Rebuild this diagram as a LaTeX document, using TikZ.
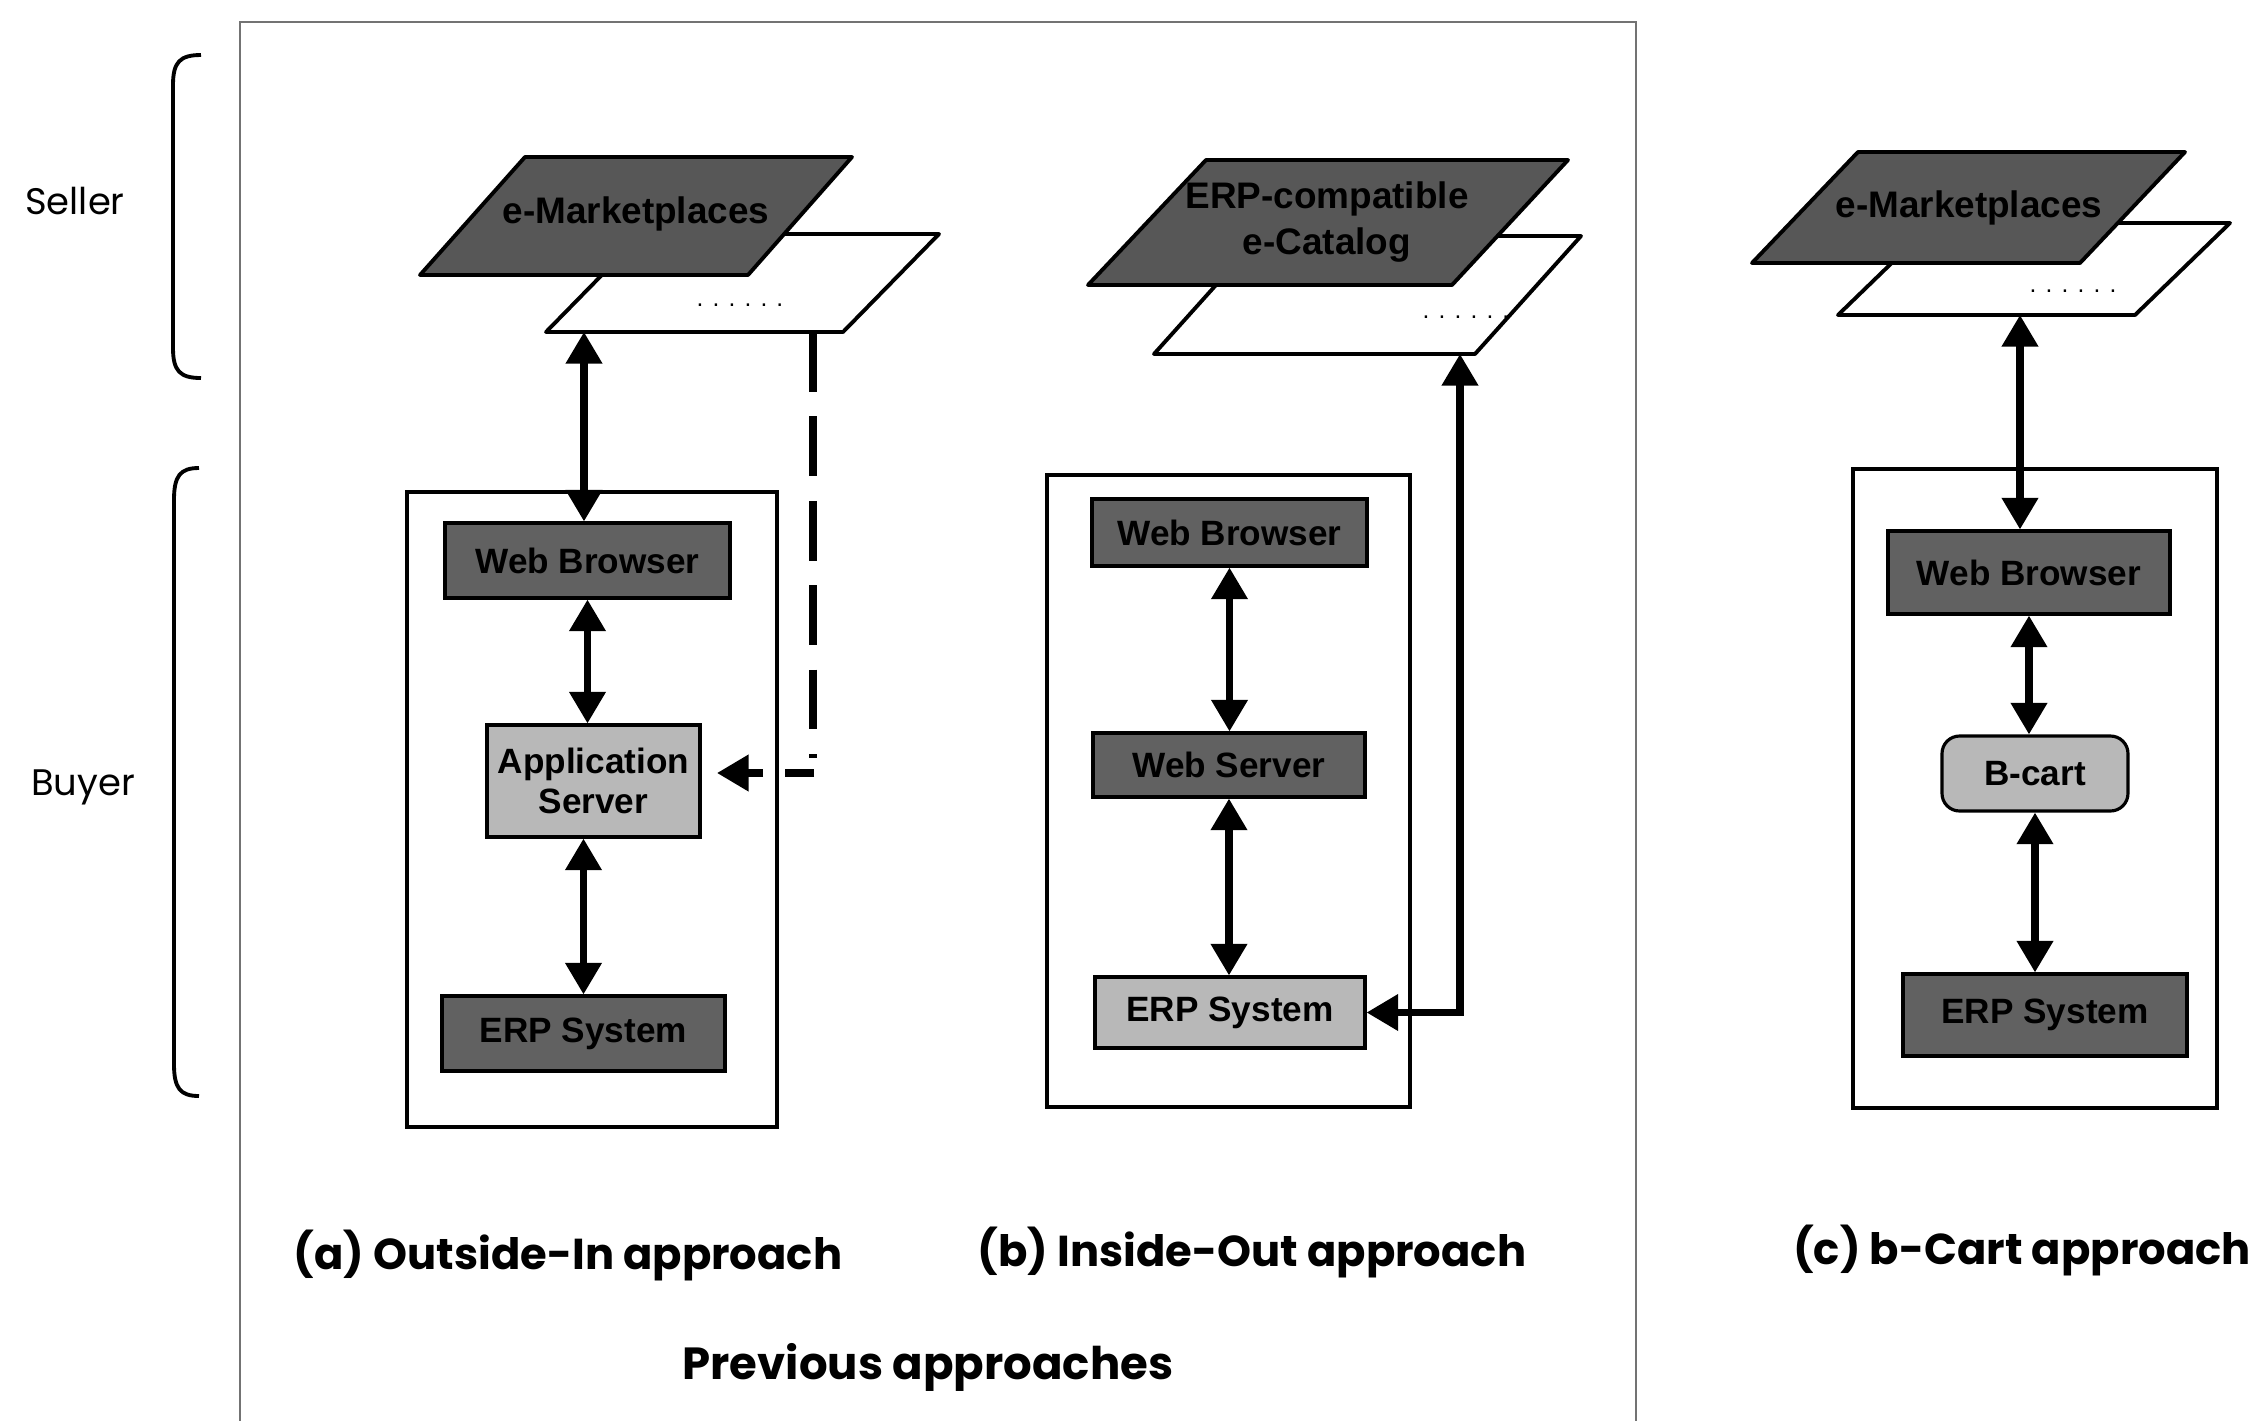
\documentclass[tikz,border=0pt]{standalone}
\usepackage{fontspec}
\setmainfont{Liberation Sans}
\newfontfamily\capfont{Poppins}
\usetikzlibrary{arrows.meta}
\definecolor{darkfill}{gray}{0.38}
\definecolor{pfill}{gray}{0.34}
\definecolor{lightfill}{gray}{0.72}
\tikzset{
  sz/.style 2 args={minimum width=#1*0.01cm, minimum height=#2*0.01cm},
  box/.style={draw=black, line width=0.9pt, inner sep=0pt, font=\bfseries\fontsize{10}{11.5}\selectfont, align=center},
  darkbox/.style={box, fill=darkfill},
  lightbox/.style={box, fill=lightfill},
  buyerframe/.style={draw=black, line width=1pt, inner sep=0pt},
  para/.style={draw=black, line width=1.1pt, line join=round},
  ptext/.style={font=\bfseries\fontsize{10.5}{13}\selectfont, align=center},
  dots/.style={font=\fontsize{7}{8}\selectfont},
  dbl/.style={line width=2pt, {Triangle[length=9pt,width=10pt]}-{Triangle[length=9pt,width=10pt]}},
  sgl/.style={line width=2pt, -{Triangle[length=9pt,width=10pt]}},
  captext/.style={font=\capfont\bfseries\fontsize{12.3}{14}\selectfont},
  side/.style={font=\capfont\fontsize{10.5}{12}\selectfont},
  brk/.style={draw=black, line width=1.1pt},
}
\begin{document}
\begin{tikzpicture}[x=0.01cm,y=-0.01cm]
\useasboundingbox (0,0) rectangle (2256,1420);
\clip (0,0) rectangle (2256,1420);
\fill[white] (0,0) rectangle (2256,1420);

% outer frame (previous approaches)
\draw[black!55, line width=0.8pt] (240,1440) -- (240,22) -- (1636,22) -- (1636,1440);

% side labels and brackets
\node[side] (seller) at (75,201) {Seller};
\node[side] (buyer) at (83,787) {Buyer};
\draw[brk] (201,55) .. controls (180,55) and (173,62) .. (173,85) -- (173,348) .. controls (173,371) and (180,378) .. (201,378);
\draw[brk] (199,468) .. controls (180,468) and (174,476) .. (174,500) -- (174,1064) .. controls (174,1088) and (180,1096) .. (199,1096);

% ================= (a) =================
\draw[para, fill=white] (642,234) -- (939,234) -- (843,332) -- (546,332) -- cycle;
\node[dots] (dotsA) at (740,305) {. . . . . .};
\draw[para, fill=pfill] (525,157) -- (852,157) -- (748,275) -- (420,275) -- cycle;
\node[ptext] (mpA) at (636,214) {e-Marketplaces};
\coordinate (aTop) at (584,332);
\coordinate (aDash) at (813,332);

\node[buyerframe, sz={370}{635}] (frA) at (592,809.5) {};
\node[darkbox, sz={285}{75}] (wbA) at (587.5,560.5) {Web Browser};
\node[lightbox, sz={213}{112}] (asA) at (593.5,781) {Application\\Server};
\node[darkbox, sz={283}{75}] (erpA) at (583.5,1033.5) {ERP System};

\draw[dbl] (aTop) -- (aTop |- wbA.north);
\draw[dbl] (wbA.south) -- (wbA.south |- asA.north);
\draw[dbl] (erpA.north |- asA.south) -- (erpA.north);
\coordinate (aBend) at (813,758);
\coordinate (aStubR) at (814,773);
\coordinate (aStubL) at (785,773);
\coordinate (aShaft) at (763,773);
\coordinate (aTip) at (717,773);
\draw[line width=2pt, dash pattern=on 17pt off 7pt] (aDash) -- (aBend);
\draw[line width=2pt] (aStubR) -- (aStubL);
\draw[sgl] (aShaft) -- (aTip);

\node[captext] (capA) at (568,1255) {(a) Outside-In approach};

% ================= (b) =================
\draw[para, fill=white] (1260,236) -- (1581,236) -- (1475,354) -- (1154,354) -- cycle;
\node[dots] (dotsB) at (1466,317) {. . . . . .};
\draw[para, fill=pfill] (1206,160) -- (1568,160) -- (1452,285) -- (1088,285) -- cycle;
\node[ptext] (ecB) at (1327,222) {ERP-compatible\\e-Catalog};
\coordinate (bTop) at (1460,354);

\node[buyerframe, sz={363}{632}] (frB) at (1228.5,791) {};
\node[darkbox, sz={275}{67}] (wbB) at (1229.5,532.5) {Web Browser};
\node[darkbox, sz={272}{64}] (wsB) at (1229,765) {Web Server};
\node[lightbox, sz={270}{71}] (erpB) at (1230,1012.5) {ERP System};

\draw[dbl] (wbB.south) -- (wbB.south |- wsB.north);
\draw[dbl] (wsB.south) -- (wsB.south |- erpB.north);
\draw[dbl] (erpB.east) -| (bTop);

\node[captext] (capB) at (1252,1252) {(b) Inside-Out approach};
\node[captext, font=\capfont\bfseries\fontsize{12.8}{14}\selectfont] (capP) at (928,1367) {Previous approaches};

% ================= (c) =================
\draw[para, fill=white] (1933,223) -- (2230,223) -- (2135,315) -- (1838,315) -- cycle;
\node[dots] (dotsC) at (2073,291) {. . . . . .};
\draw[para, fill=pfill] (1858,152) -- (2185,152) -- (2080,263) -- (1752,263) -- cycle;
\node[ptext] (mpC) at (1969,208) {e-Marketplaces};
\coordinate (cTop) at (2020,315);

\node[buyerframe, sz={364}{639}] (frC) at (2035,788.5) {};
\node[darkbox, sz={282}{83}] (wbC) at (2029,572.5) {Web Browser};
\node[lightbox, rounded corners=5pt, sz={186}{75}] (bcC) at (2035,773.5) {B-cart};
\node[darkbox, sz={284}{82}] (erpC) at (2045,1015) {ERP System};

\draw[dbl] (cTop) -- (cTop |- wbC.north);
\draw[dbl] (wbC.south) -- (wbC.south |- bcC.north);
\draw[dbl] (bcC.south) -- (bcC.south |- erpC.north);

\node[captext] (capC) at (2022,1250) {(c) b-Cart approach};
\end{tikzpicture}
\end{document}
